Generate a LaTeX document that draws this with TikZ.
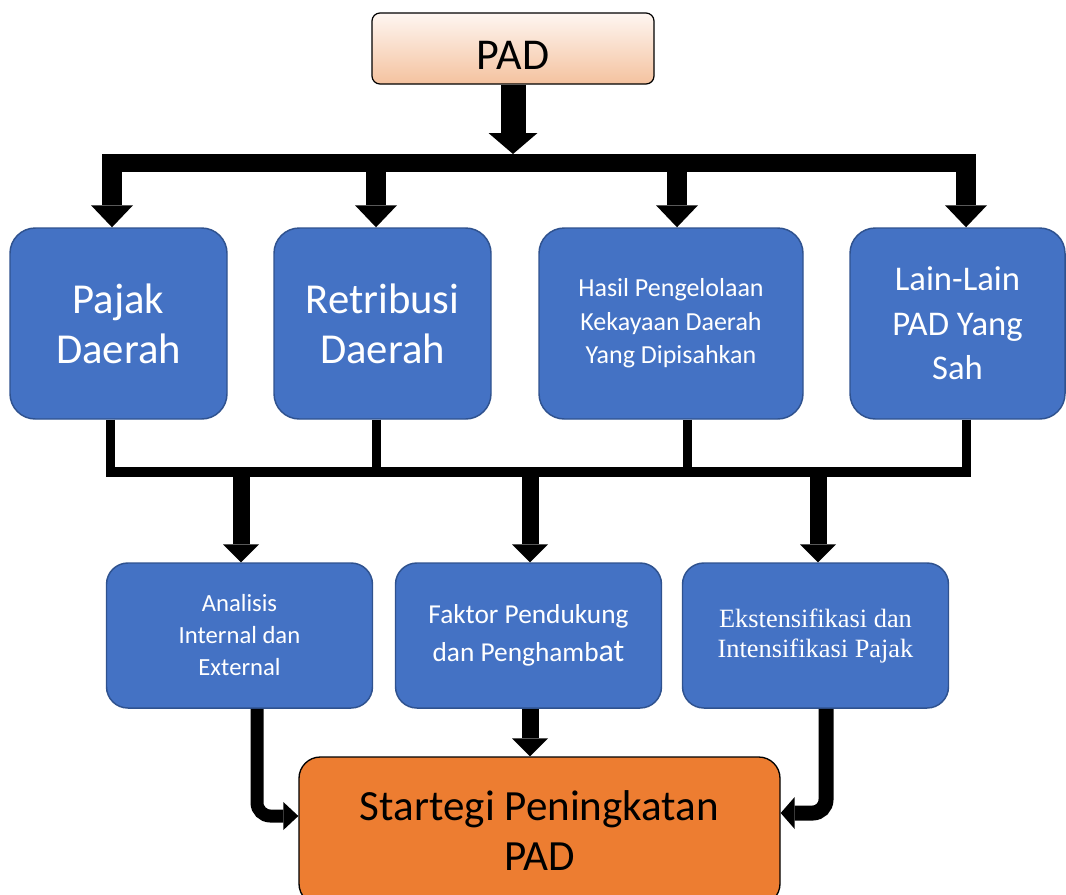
\documentclass[tikz,border=0pt]{standalone}
\usepackage{fontspec}
\setmainfont{Carlito}
\newfontfamily\timesfont{Liberation Serif}
\usetikzlibrary{arrows.meta}
\definecolor{boxblue}{HTML}{4472C4}
\definecolor{edgeblue}{HTML}{2F528F}
\definecolor{goalorange}{HTML}{ED7D31}
\definecolor{padtop}{HTML}{FEF6F1}
\definecolor{padbot}{HTML}{F4C29F}

\begin{document}
\begin{tikzpicture}[x=0.75pt,y=-0.75pt,
      rootbox/.style={draw=black,line width=0.9pt,rounded corners=6pt,
        top color=padtop,bottom color=padbot,inner sep=0pt,
        minimum width=211.5pt,minimum height=53.25pt,text height=31pt,
        font=\fontsize{33}{39}\selectfont},
      topbox/.style={draw=edgeblue,fill=boxblue,line width=1.1pt,
        rounded corners=19pt,text=white,align=center,inner sep=0pt,
        minimum height=143.25pt,font=\fontsize{32}{37.5}\selectfont},
      midbox/.style={draw=edgeblue,fill=boxblue,line width=1.1pt,
        rounded corners=16pt,text=white,align=center,inner sep=0pt,
        minimum width=199.5pt,minimum height=108.75pt},
      goalbox/.style={draw=black,fill=goalorange,line width=1pt,
        rounded corners=16pt,align=center,inner sep=0pt,
        minimum width=360.75pt,minimum height=111pt,
        font=\fontsize{32.3}{37.5}\selectfont},
      rootarrow/.style={draw=black,line width=18.75pt,
        -{Triangle[width=36.75pt,length=15.75pt,line width=0pt]}},
      toparrow/.style={draw=black,line width=15pt,
        -{Triangle[width=31.5pt,length=16.5pt,line width=0pt]}},
      midarrow/.style={draw=black,line width=12.75pt,
        -{Triangle[width=27pt,length=13.5pt,line width=0pt]}},
      sidearrow/.style={draw=black,line width=9.75pt,rounded corners=10pt,
        -{Triangle[width=21pt,length=11.25pt,line width=0pt]}},
      bus/.style={draw=black,line width=13.5pt},
      link/.style={draw=black,line width=6.75pt},
      lowbus/.style={draw=black,line width=7.5pt}
    ]
    \useasboundingbox (0,0) rectangle (1066,894);
    \node[rootbox] (pad) at (513,48.5) {PAD};
    \node[topbox,minimum width=162.75pt] (pajak) at (118.5,323.5)
      {Pajak\\Daerah};
    \node[topbox,minimum width=162.75pt] (retribusi) at (382.5,323.5)
      {Retribusi\\Daerah};
    \node[topbox,minimum width=198pt,font=\fontsize{19.5}{25}\selectfont]
      (hasil) at (671,323.5)
      {Hasil Pengelolaan\\Kekayaan Daerah\\Yang Dipisahkan};
    \node[topbox,minimum width=161.25pt,font=\fontsize{26}{33.5}\selectfont]
      (lain) at (957.5,323.5) {Lain-Lain\\PAD Yang\\Sah};
    \node[midbox,font=\fontsize{18.5}{24}\selectfont] (analisis)
      at (239.5,635.5) {Analisis\\Internal dan\\External};
    \node[midbox,font=\fontsize{20.5}{29}\selectfont] (faktor)
      at (528.5,635.5)
      {Faktor Pendukung\\dan Penghamb{\fontsize{24}{29}\selectfont at}};
    \node[midbox,font=\timesfont\fontsize{19.8}{22.5}\selectfont] (ekst)
      at (815.5,635.5) {Ekstensifikasi dan\\Intensifikasi Pajak};
    \node[goalbox] (strategi) at (539.5,831)
      {Startegi Peningkatan\\PAD};
    % upper bus from PAD to the four sources
    \coordinate (tl) at (102,163);
    \coordinate (tr) at (976,163);
    \coordinate (ta) at (112,154);
    \coordinate (tb) at (376,154);
    \coordinate (tc) at (677,154);
    \coordinate (td) at (966,154);
    \draw[bus] (tl) -- (tr);
    \draw[rootarrow] (pad.south) -- (pad.south |- ta);
    \draw[toparrow] (ta) -- (ta |- pajak.north);
    \draw[toparrow] (tb) -- (tb |- retribusi.north);
    \draw[toparrow] (tc) -- (tc |- hasil.north);
    \draw[toparrow] (td) -- (td |- lain.north);
    % lower bus from the sources to the analyses
    \coordinate (bl) at (106,472);
    \coordinate (br) at (971,472);
    \coordinate (la) at (110,477);
    \coordinate (lb) at (376,477);
    \coordinate (lc) at (687,477);
    \coordinate (ld) at (966,477);
    \draw[lowbus] (bl) -- (br);
    \draw[link] (pajak.south -| la) -- (la);
    \draw[link] (retribusi.south -| lb) -- (lb);
    \draw[link] (hasil.south -| lc) -- (lc);
    \draw[link] (lain.south -| ld) -- (ld);
    \coordinate (ma) at (241,467);
    \coordinate (mb) at (530,467);
    \coordinate (mc) at (818,467);
    \draw[midarrow] (ma) -- (ma |- analisis.north);
    \draw[midarrow] (mb) -- (mb |- faktor.north);
    \draw[midarrow] (mc) -- (mc |- ekst.north);
    % into the strategy box
    \coordinate (ja) at (257,816);
    \coordinate (jc) at (826,813);
    \draw[sidearrow] (analisis.south -| ja) -- (ja) -- (ja -| strategi.west);
    \draw[midarrow] (faktor.south -| mb) -- (strategi.north -| mb);
    \draw[sidearrow,line width=11.25pt,
      -{Triangle[width=24pt,length=10.5pt,line width=0pt]}]
      (ekst.south -| jc) -- (jc) -- (jc -| strategi.east);
  \end{tikzpicture}
\end{document}
